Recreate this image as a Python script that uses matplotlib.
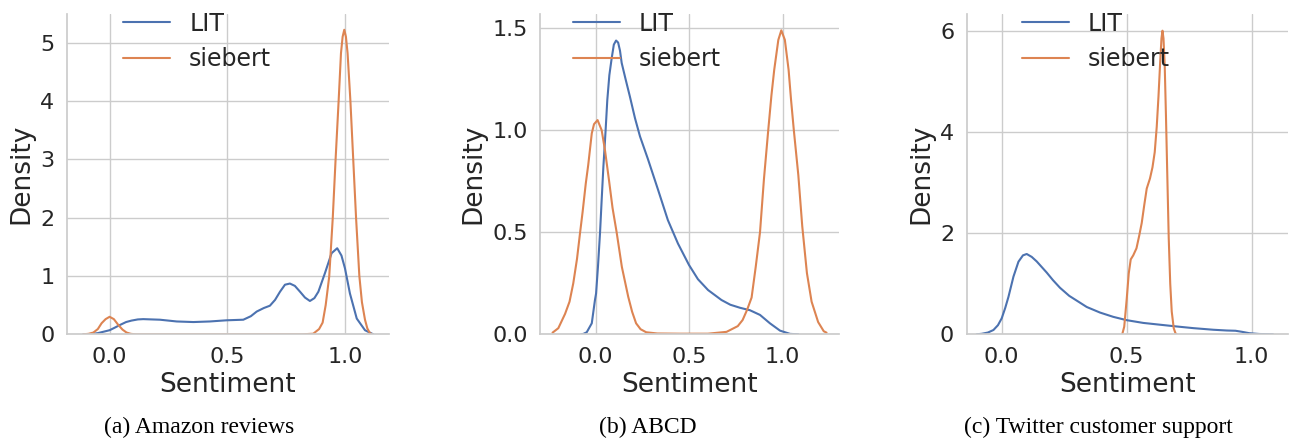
import matplotlib
matplotlib.use("Agg")
import matplotlib.pyplot as plt
import seaborn as sns

# ---------------- data ----------------
# (a) Amazon reviews
a_lit_x = [-0.112, -0.08, -0.05, -0.02, 0.0, 0.02, 0.044, 0.07, 0.093, 0.12, 0.143,
           0.214, 0.285, 0.356, 0.426, 0.497, 0.568, 0.6, 0.625, 0.655, 0.681, 0.703,
           0.724, 0.745, 0.766, 0.787, 0.809, 0.83, 0.851, 0.87, 0.887, 0.915, 0.943,
           0.967, 0.985, 1.0, 1.021, 1.05, 1.085, 1.12]
a_lit_y = [0.0, 0.005, 0.02, 0.05, 0.07, 0.11, 0.16, 0.21, 0.235, 0.255, 0.26,
           0.25, 0.22, 0.21, 0.22, 0.24, 0.25, 0.31, 0.39, 0.45, 0.49, 0.59,
           0.73, 0.85, 0.87, 0.83, 0.73, 0.63, 0.571, 0.62, 0.73, 1.05, 1.39,
           1.475, 1.35, 1.13, 0.70, 0.27, 0.07, 0.0]
a_sie_x = [-0.112, -0.09, -0.069, -0.05, -0.034, -0.017, 0.0, 0.018, 0.037, 0.055,
           0.072, 0.09, 0.11, 0.5, 0.82, 0.865, 0.89, 0.905, 0.918, 0.933, 0.948,
           0.960, 0.973, 0.983, 0.99, 0.997, 1.004, 1.011, 1.023, 1.035, 1.047,
           1.061, 1.072, 1.085, 1.095, 1.106, 1.115]
a_sie_y = [0.0, 0.008, 0.03, 0.09, 0.19, 0.26, 0.30, 0.26, 0.16, 0.08,
           0.03, 0.008, 0.0, 0.0, 0.0, 0.01, 0.09, 0.2, 0.5, 0.99, 1.99,
           2.99, 4.0, 4.82, 5.1, 5.22, 5.1, 4.82, 4.0, 3.0, 2.0,
           1.0, 0.55, 0.25, 0.1, 0.02, 0.0]

# (b) ABCD
b_lit_x = [-0.079, -0.066, -0.048, -0.021, -0.004, 0.002, 0.012, 0.023, 0.032, 0.041,
           0.053, 0.062, 0.073, 0.085, 0.097, 0.109, 0.12, 0.13, 0.139, 0.16, 0.183,
           0.21, 0.237, 0.279, 0.333, 0.386, 0.44, 0.499, 0.547, 0.601, 0.673, 0.72,
           0.772, 0.825, 0.879, 0.932, 0.986, 1.04, 1.084]
b_lit_y = [0.0, 0.002, 0.01, 0.054, 0.168, 0.2, 0.33, 0.495, 0.66, 0.82,
           1.0, 1.148, 1.27, 1.35, 1.42, 1.44, 1.43, 1.39, 1.33, 1.25, 1.165,
           1.06, 0.97, 0.86, 0.71, 0.56, 0.445, 0.34, 0.27, 0.217, 0.168, 0.145,
           0.13, 0.118, 0.095, 0.054, 0.018, 0.002, 0.0]
b_sie_x = [-0.231, -0.2, -0.164, -0.14, -0.12, -0.1, -0.084, -0.07, -0.053, -0.04,
           -0.021, -0.009, 0.01, 0.032, 0.05, 0.071, 0.09, 0.112, 0.14, 0.174, 0.195,
           0.216, 0.24, 0.27, 0.33, 0.45, 0.6, 0.7, 0.76, 0.786, 0.81, 0.834, 0.856,
           0.879, 0.9, 0.923, 0.94, 0.955, 0.977, 0.993, 1.012, 1.032, 1.045, 1.06,
           1.084, 1.105, 1.13, 1.155, 1.19, 1.22, 1.235]
b_sie_y = [0.008, 0.03, 0.1, 0.16, 0.25, 0.37, 0.495, 0.6, 0.74, 0.83,
           0.985, 1.03, 1.05, 1.0, 0.9, 0.756, 0.62, 0.5, 0.33, 0.184, 0.11,
           0.054, 0.025, 0.01, 0.004, 0.003, 0.003, 0.012, 0.04, 0.07, 0.12, 0.18, 0.33,
           0.5, 0.76, 1.0, 1.17, 1.296, 1.443, 1.49, 1.443, 1.296, 1.15, 1.0,
           0.78, 0.53, 0.3, 0.16, 0.06, 0.015, 0.008]

# (c) Twitter customer support
c_lit_x = [-0.1, -0.08, -0.055, -0.033, -0.015, 0.0, 0.014, 0.027, 0.047, 0.067,
           0.085, 0.1, 0.12, 0.14, 0.16, 0.18, 0.205, 0.233, 0.27, 0.307, 0.34,
           0.393, 0.446, 0.499, 0.566, 0.632, 0.699, 0.766, 0.846, 0.9, 0.935,
           0.96, 0.99, 1.03, 1.085]
c_lit_y = [0.0, 0.01, 0.035, 0.085, 0.18, 0.316, 0.52, 0.74, 1.14, 1.435,
           1.56, 1.587, 1.53, 1.44, 1.33, 1.22, 1.07, 0.92, 0.76, 0.644, 0.54,
           0.43, 0.345, 0.28, 0.225, 0.19, 0.155, 0.122, 0.09, 0.075, 0.07,
           0.05, 0.022, 0.006, 0.0]
c_sie_x = [0.482, 0.49, 0.5, 0.508, 0.516, 0.526, 0.539, 0.55, 0.56, 0.57,
           0.58, 0.593, 0.603, 0.612, 0.62, 0.627, 0.634, 0.639, 0.643, 0.647,
           0.652, 0.657, 0.662, 0.668, 0.674, 0.68, 0.688, 0.695, 0.7]
c_sie_y = [0.0, 0.15, 0.7, 1.2, 1.48, 1.56, 1.7, 1.95, 2.2, 2.55,
           2.88, 3.08, 3.3, 3.6, 4.1, 4.7, 5.4, 5.85, 6.0, 5.85,
           5.3, 4.3, 3.2, 1.9, 1.0, 0.45, 0.12, 0.02, 0.0]

series_names = ["LIT", "siebert"]
captions = ["(a) Amazon reviews", "(b) ABCD", "(c) Twitter customer support"]
panels = [
    (a_lit_x, a_lit_y, a_sie_x, a_sie_y),
    (b_lit_x, b_lit_y, b_sie_x, b_sie_y),
    (c_lit_x, c_lit_y, c_sie_x, c_sie_y),
]
xlims = [(-0.181, 1.187), (-0.298, 1.30), (-0.14, 1.145)]
ylims = [(0, 5.49), (0, 1.570), (0, 6.33)]
yticks = [[0, 1, 2, 3, 4, 5], [0.0, 0.5, 1.0, 1.5], [0, 2, 4, 6]]
ytick_labels = [["0", "1", "2", "3", "4", "5"], ["0.0", "0.5", "1.0", "1.5"], ["0", "2", "4", "6"]]
xticks = [0.0, 0.5, 1.0]
xtick_labels = ["0.0", "0.5", "1.0"]

# ---------------- style ----------------
sns.set_theme(style="whitegrid")
plt.rcParams["font.family"] = ["DejaVu Sans"]
colors = sns.color_palette("deep")
c_lit, c_sie = colors[0], colors[1]

W, H = 1289, 441
fig = plt.figure(figsize=(W / 100, H / 100), dpi=100)

ax_px = [(67, 389), (540, 838.7), (966.7, 1288)]
top_px, bot_px = 14, 334.3
leg_x = [0.174, 0.1095, 0.172]
cap_x = [199, 648, 1098]

for i, (lx, ly, sx, sy) in enumerate(panels):
    l, r = ax_px[i]
    ax = fig.add_axes([l / W, (H - bot_px) / H, (r - l) / W, (bot_px - top_px) / H])
    ax.plot(lx, ly, color=c_lit, lw=1.5, label=series_names[0], solid_joinstyle="round")
    ax.plot(sx, sy, color=c_sie, lw=1.5, label=series_names[1], solid_joinstyle="round")
    ax.set_xlim(*xlims[i])
    ax.set_ylim(*ylims[i])
    ax.set_xticks(xticks)
    ax.set_xticklabels(xtick_labels)
    ax.set_yticks(yticks[i])
    ax.set_yticklabels(ytick_labels[i])
    ax.tick_params(axis="both", labelsize=16, pad=9, length=0, colors=".15")
    ax.set_xlabel("Sentiment", fontsize=19, color=".15", labelpad=4)
    ax.set_ylabel("Density", fontsize=19, color=".15", labelpad=4)
    for s in ["top", "right"]:
        ax.spines[s].set_visible(False)
    for s in ["left", "bottom"]:
        ax.spines[s].set_color(".8")
    leg = ax.legend(loc="upper left", bbox_to_anchor=(leg_x[i], 1.0075), frameon=False,
                    fontsize=17, borderaxespad=0, borderpad=0, labelspacing=0.5,
                    handlelength=2.0, handletextpad=0.8)
    for t in leg.get_texts():
        t.set_color(".15")
    fig.text(cap_x[i] / W, (H - 427) / H, captions[i], ha="center", va="center",
             fontsize=17, family="Liberation Serif", color="black")

fig.savefig("out.png", dpi=100)
